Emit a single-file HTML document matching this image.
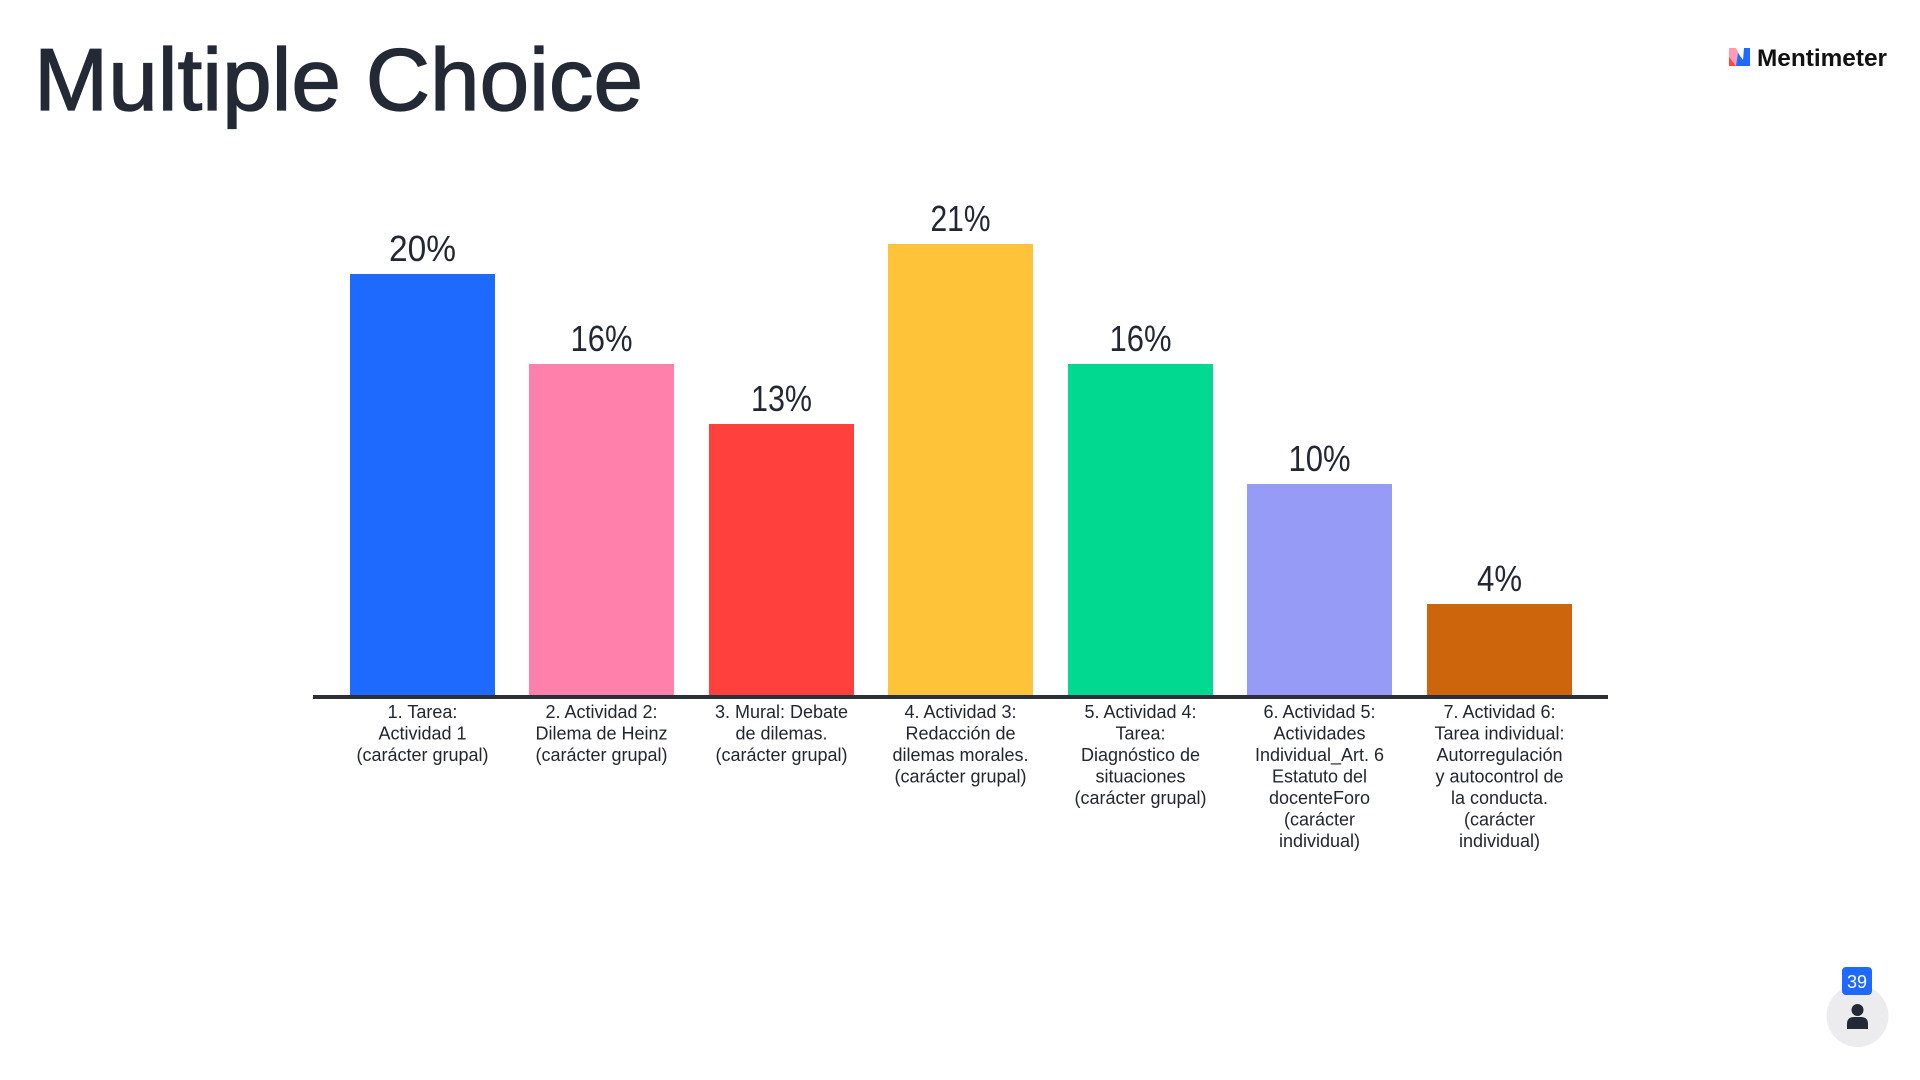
<!DOCTYPE html>
<html>
<head>
<meta charset="utf-8">
<style>
  html,body{margin:0;padding:0;background:#ffffff;}
  body{width:1920px;height:1080px;overflow:hidden;position:relative;font-family:"Liberation Sans",sans-serif;}
  svg{position:absolute;left:0;top:0;}
</style>
</head>
<body>
<svg width="1920" height="1080" viewBox="0 0 1920 1080" xmlns="http://www.w3.org/2000/svg">
  <!-- Title -->
  <text x="34" y="110" font-family="Liberation Sans, sans-serif" font-size="88" fill="#232935" stroke="#232935" stroke-width="1.3" textLength="609" lengthAdjust="spacingAndGlyphs">Multiple Choice</text>

  <!-- Mentimeter logo -->
  <g>
    <polygon points="1729,48 1736,48 1741,58 1741,66 1729,66" fill="#ff9ab8"/>
    <polygon points="1729,57 1736,66 1729,66" fill="#ff4a3d"/>
    <polygon points="1738,53 1743,60 1744,48 1750,48 1750,66 1736,66" fill="#1f6bff"/>
    <text x="1757" y="66" font-family="Liberation Sans, sans-serif" font-size="24" font-weight="bold" fill="#111111" textLength="130" lengthAdjust="spacingAndGlyphs">Mentimeter</text>
  </g>

  <!-- Bars -->
  <rect x="350" y="274" width="145" height="422" fill="#1e6aff"/>
  <rect x="529" y="364" width="145" height="332" fill="#ff80aa"/>
  <rect x="709" y="424" width="145" height="272" fill="#ff403d"/>
  <rect x="888" y="244" width="145" height="452" fill="#ffc33a"/>
  <rect x="1068" y="364" width="145" height="332" fill="#00d98f"/>
  <rect x="1247" y="484" width="145" height="212" fill="#969bf5"/>
  <rect x="1427" y="604" width="145" height="92" fill="#cc650c"/>

  <!-- Axis -->
  <rect x="313" y="695" width="1295" height="4" fill="#2a2f3a"/>

  <!-- Percent labels -->
  <g font-family="Liberation Sans, sans-serif" font-size="36" fill="#222733" text-anchor="middle">
    <text x="422.5" y="261" textLength="67" lengthAdjust="spacingAndGlyphs">20%</text>
    <text x="601.5" y="351" textLength="62" lengthAdjust="spacingAndGlyphs">16%</text>
    <text x="781.5" y="411" textLength="61" lengthAdjust="spacingAndGlyphs">13%</text>
    <text x="960.5" y="231" textLength="60" lengthAdjust="spacingAndGlyphs">21%</text>
    <text x="1140.5" y="351" textLength="62" lengthAdjust="spacingAndGlyphs">16%</text>
    <text x="1319.5" y="471" textLength="62" lengthAdjust="spacingAndGlyphs">10%</text>
    <text x="1499.5" y="591" textLength="45" lengthAdjust="spacingAndGlyphs">4%</text>
  </g>

  <!-- Category labels -->
  <g font-family="Liberation Sans, sans-serif" font-size="18" fill="#22262f" text-anchor="middle">
    <text x="422.5" y="718">1. Tarea:</text>
    <text x="422.5" y="739.5">Actividad 1</text>
    <text x="422.5" y="761">(carácter grupal)</text>

    <text x="601.5" y="718">2. Actividad 2:</text>
    <text x="601.5" y="739.5">Dilema de Heinz</text>
    <text x="601.5" y="761">(carácter grupal)</text>

    <text x="781.5" y="718">3. Mural: Debate</text>
    <text x="781.5" y="739.5">de dilemas.</text>
    <text x="781.5" y="761">(carácter grupal)</text>

    <text x="960.5" y="718">4. Actividad 3:</text>
    <text x="960.5" y="739.5">Redacción de</text>
    <text x="960.5" y="761">dilemas morales.</text>
    <text x="960.5" y="782.5">(carácter grupal)</text>

    <text x="1140.5" y="718">5. Actividad 4:</text>
    <text x="1140.5" y="739.5">Tarea:</text>
    <text x="1140.5" y="761">Diagnóstico de</text>
    <text x="1140.5" y="782.5">situaciones</text>
    <text x="1140.5" y="804">(carácter grupal)</text>

    <text x="1319.5" y="718">6. Actividad 5:</text>
    <text x="1319.5" y="739.5">Actividades</text>
    <text x="1319.5" y="761">Individual_Art. 6</text>
    <text x="1319.5" y="782.5">Estatuto del</text>
    <text x="1319.5" y="804">docenteForo</text>
    <text x="1319.5" y="825.5">(carácter</text>
    <text x="1319.5" y="847">individual)</text>

    <text x="1499.5" y="718">7. Actividad 6:</text>
    <text x="1499.5" y="739.5">Tarea individual:</text>
    <text x="1499.5" y="761">Autorregulación</text>
    <text x="1499.5" y="782.5">y autocontrol de</text>
    <text x="1499.5" y="804">la conducta.</text>
    <text x="1499.5" y="825.5">(carácter</text>
    <text x="1499.5" y="847">individual)</text>
  </g>

  <!-- Participant badge -->
  <circle cx="1857.5" cy="1016" r="31" fill="#ececee"/>
  <circle cx="1857.5" cy="1010" r="6" fill="#232935"/>
  <path d="M1847,1029 L1847,1024 Q1847,1017 1854,1017 L1861,1017 Q1868,1017 1868,1024 L1868,1029 Z" fill="#232935"/>
  <rect x="1842" y="967" width="30" height="28" rx="4" ry="4" fill="#1e6aff"/>
  <text x="1857" y="988" font-family="Liberation Sans, sans-serif" font-size="18" fill="#ffffff" text-anchor="middle">39</text>
</svg>
</body>
</html>
